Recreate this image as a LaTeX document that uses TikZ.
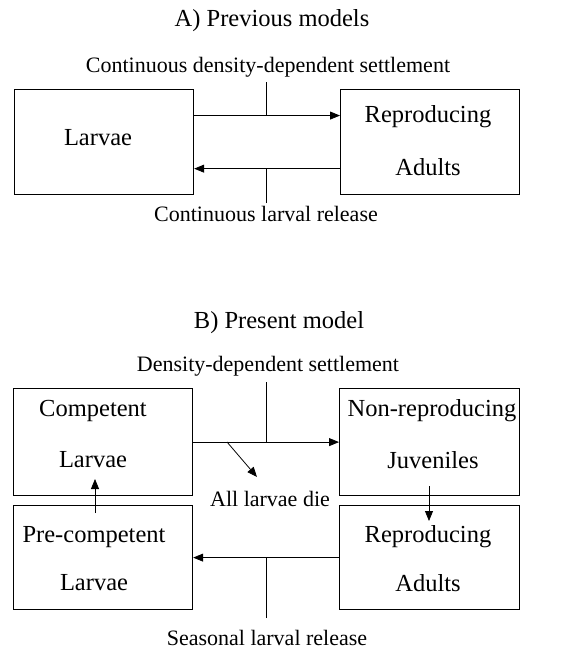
\documentclass[tikz,border=0pt]{standalone}
\usepackage{fontspec}
\setmainfont{Liberation Serif}
\usetikzlibrary{arrows.meta,calc}
\begin{document}
\begin{tikzpicture}[x=1pt,y=-1pt,
  box/.style={draw,line width=1.2pt,minimum width=179pt,minimum height=105pt,inner sep=0pt,anchor=north west},
  boxtext/.style={font=\fontsize{24.5}{26}\selectfont,inner sep=0pt},
  lbl/.style={font=\fontsize{22}{24}\selectfont,inner sep=0pt},
  ttl/.style={font=\fontsize{24.5}{26}\selectfont,inner sep=0pt},
  arr/.style={line width=0.8pt,-{Triangle[length=10pt,width=8pt]}},
  tick/.style={line width=0.9pt}]
\useasboundingbox (0,0) rectangle (564,649);
% ---------- Part A ----------
\node[ttl] (tA) at (272,21) {A) Previous models};
\node[lbl] (lA1) at (268,67) {Continuous density-dependent settlement};
\node[box] (L) at (14,89) {};
\node[box] (RA) at (340,89) {};
\node[boxtext] (Ltxt) at (98,138) {Larvae};
\node[boxtext] (RAt1) at (428,117) {Reproducing};
\node[boxtext] (RAt2) at (428,167) {Adults};
\coordinate (a1s) at ($(L.north east)!0.25!(L.south east)$);
\coordinate (a1e) at ($(RA.north west)!0.25!(RA.south west)$);
\draw[arr] (a1s) -- (a1e);
\coordinate (a2s) at ($(RA.north west)!0.75!(RA.south west)$);
\coordinate (a2e) at ($(L.north east)!0.75!(L.south east)$);
\draw[arr] (a2s) -- (a2e);
\coordinate (k1) at (266,82);
\draw[tick] (k1) -- (k1 |- a1s);
\coordinate (k2) at (266,203);
\draw[tick] (k2) -- (k2 |- a2s);
\node[lbl] (lA2) at (266,214) {Continuous larval release};
% ---------- Part B ----------
\node[ttl] (tB) at (279,323) {B) Present model};
\node[lbl] (lB1) at (268,366) {Density-dependent settlement};
\node[box,minimum height=107pt] (CL) at (13,388) {};
\node[box,minimum height=107pt,minimum width=180pt] (NJ) at (339,388) {};
\node[box,minimum height=104pt] (PL) at (13,505) {};
\node[box,minimum height=104pt,minimum width=180pt] (RB) at (339,505) {};
\node[boxtext] (CLt1) at (93,411) {Competent};
\node[boxtext] (CLt2) at (93,460) {Larvae};
\node[boxtext] (NJt1) at (432,411) {Non-reproducing};
\node[boxtext] (NJt2) at (433,460) {Juveniles};
\node[boxtext] (PLt1) at (94,537) {Pre-competent};
\node[boxtext] (PLt2) at (94,583) {Larvae};
\node[boxtext] (RBt1) at (428,537) {Reproducing};
\node[boxtext] (RBt2) at (428,583) {Adults};
\draw[arr] (CL.east) -- (NJ.west);
\coordinate (k3) at (266,382);
\draw[tick] (k3) -- (k3 |- CL.east);
\coordinate (d1) at (227,442);
\coordinate (d2) at (257,477);
\draw[arr] (d1) -- (d2);
\node[lbl] (die) at (270,499) {All larvae die};
\coordinate (u1) at (95,513);
\coordinate (u2) at (95,479);
\draw[arr] (u1) -- (u2);
\coordinate (v1) at (429,486);
\coordinate (v2) at (429,521);
\draw[arr] (v1) -- (v2);
\draw[arr] (RB.west) -- (PL.east);
\coordinate (k4) at (266,618);
\draw[tick] (k4) -- (k4 |- RB.west);
\node[lbl] (lB2) at (267,638) {Seasonal larval release};
\end{tikzpicture}
\end{document}
